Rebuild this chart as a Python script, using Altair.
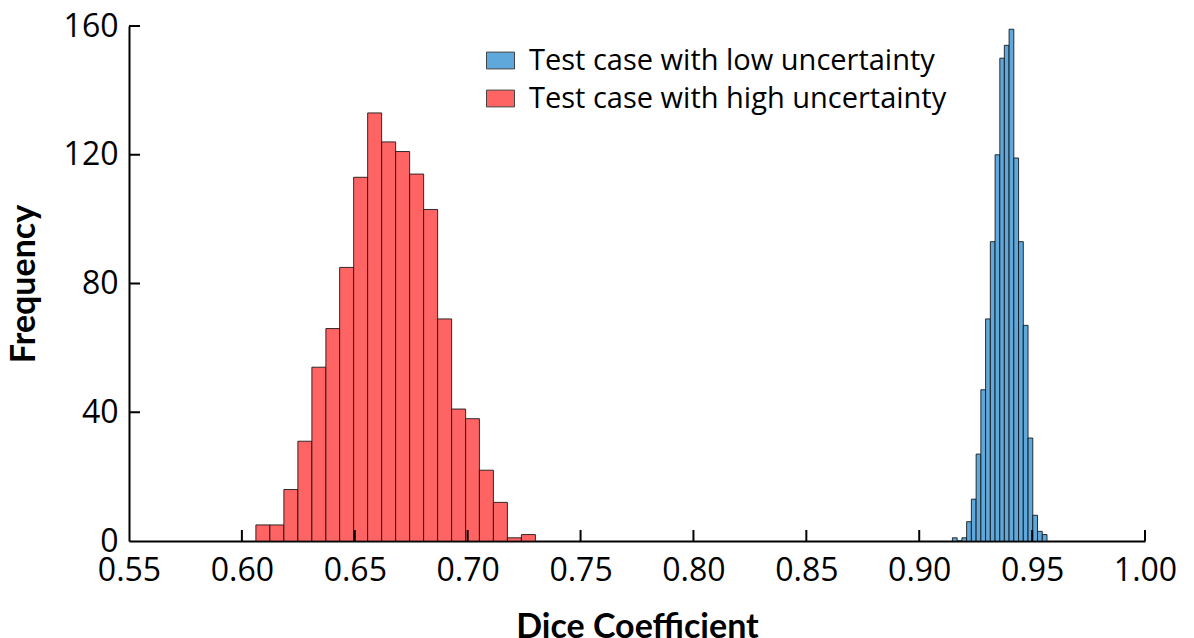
import altair as alt
import pandas as pd

# ---- data ----
series_names = ["Test case with low uncertainty", "Test case with high uncertainty"]
series_colors = ["#5EA8DC", "#FF6464"]

low_bin_left = [0.9147, 0.9168, 0.9189, 0.9210, 0.9231, 0.9252, 0.9273, 0.9294, 0.9315, 0.9336,
                0.9357, 0.9377, 0.9398, 0.9419, 0.9440, 0.9461, 0.9482, 0.9503, 0.9524, 0.9545]
low_bin_right = [0.9168, 0.9189, 0.9210, 0.9231, 0.9252, 0.9273, 0.9294, 0.9315, 0.9336, 0.9357,
                 0.9377, 0.9398, 0.9419, 0.9440, 0.9461, 0.9482, 0.9503, 0.9524, 0.9545, 0.9566]
low_counts = [1, 0, 1, 6, 13, 27, 47, 69, 93, 120, 150, 154, 159, 119, 93, 67, 32, 8, 3, 2]

high_bin_left = [0.6062, 0.6124, 0.6186, 0.6248, 0.6310, 0.6372, 0.6433, 0.6495, 0.6557, 0.6619,
                 0.6681, 0.6743, 0.6805, 0.6867, 0.6929, 0.6991, 0.7052, 0.7114, 0.7176, 0.7238]
high_bin_right = [0.6124, 0.6186, 0.6248, 0.6310, 0.6372, 0.6433, 0.6495, 0.6557, 0.6619, 0.6681,
                  0.6743, 0.6805, 0.6867, 0.6929, 0.6991, 0.7052, 0.7114, 0.7176, 0.7238, 0.7300]
high_counts = [5, 5, 16, 31, 54, 66, 85, 113, 133, 124, 121, 114, 103, 69, 41, 38, 22, 12, 1, 2]

x_ticks = [0.55, 0.60, 0.65, 0.70, 0.75, 0.80, 0.85, 0.90, 0.95, 1.00]
y_ticks = [0, 40, 80, 120, 160]

x_title = "Dice Coefficient"
y_title = "Frequency"

# ---- tables ----
rows = []
for l, r, c in zip(high_bin_left, high_bin_right, high_counts):
    rows.append({"x0": l, "x1": r, "count": c, "base": 0, "series": series_names[1]})
for l, r, c in zip(low_bin_left, low_bin_right, low_counts):
    rows.append({"x0": l, "x1": r, "count": c, "base": 0, "series": series_names[0]})
df = pd.DataFrame(rows)

W, H = 1016, 515
TICK = 11

xscale = alt.Scale(domain=[x_ticks[0], x_ticks[-1]], nice=False, zero=False)
yscale = alt.Scale(domain=[y_ticks[0], y_ticks[-1]], nice=False)

x_axis = alt.Axis(values=x_ticks, format=".2f", labelPadding=14, titlePadding=24,
                  labelFlush=False)
y_axis = alt.Axis(values=y_ticks, format="d", labelPadding=11, titlePadding=22,
                  labelFlush=False)

bars = alt.Chart(df).mark_rect(stroke="#111111", strokeWidth=1, strokeOpacity=0.85).encode(
    x=alt.X("x0:Q", scale=xscale, axis=x_axis, title=x_title),
    x2="x1:Q",
    y=alt.Y("count:Q", scale=yscale, axis=y_axis, title=y_title),
    y2="base:Q",
    color=alt.Color("series:N",
                    scale=alt.Scale(domain=series_names, range=series_colors),
                    legend=alt.Legend(title=None, orient="none", legendX=357, legendY=20,
                                      padding=0,
                                      symbolType="M-1,-0.6H1V0.6H-1Z", symbolSize=784,
                                      symbolStrokeColor="#444444", symbolStrokeWidth=1,
                                      symbolOpacity=1,
                                      labelFont="Open Sans", labelFontSize=29,
                                      labelColor="black",
                                      labelOffset=14, rowPadding=8, labelLimit=700)),
)

xticks = alt.Chart(pd.DataFrame({"t": x_ticks[1:]})).mark_rule(color="black", strokeWidth=2).encode(
    x=alt.X("t:Q", scale=xscale, axis=x_axis, title=x_title),
    y=alt.value(H),
    y2=alt.value(H - TICK),
)

yticks = alt.Chart(pd.DataFrame({"v": y_ticks[1:]})).mark_rule(color="black", strokeWidth=2).encode(
    y=alt.Y("v:Q", scale=yscale, axis=y_axis, title=y_title),
    x=alt.value(0),
    x2=alt.value(TICK),
)

chart = alt.layer(bars, xticks, yticks).properties(
    width=W, height=H,
    autosize=alt.AutoSizeParams(type="none"),
    padding={"left": 121, "top": 18, "right": 36, "bottom": 100},
).configure_view(stroke=None).configure_axis(
    grid=False,
    ticks=False,
    domainColor="black",
    domainWidth=2,
    labelFont="Open Sans",
    labelFontSize=32,
    labelColor="black",
    titleFont="Lato",
    titleFontSize=34,
    titleFontWeight="bold",
    titleColor="black",
)

chart.save("out.html", embed_options={"renderer": "svg", "actions": False})
